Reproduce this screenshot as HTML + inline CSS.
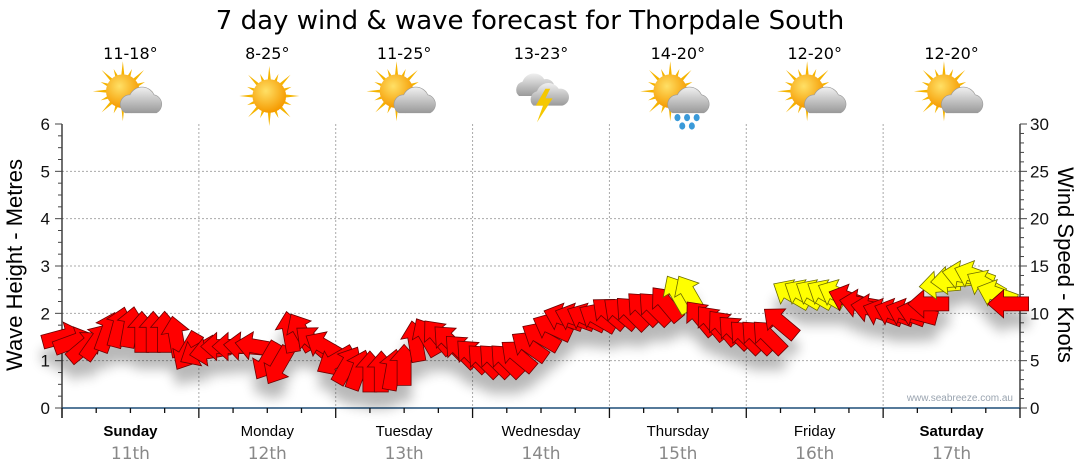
<!DOCTYPE html>
<html><head><meta charset="utf-8"><style>
html,body{margin:0;padding:0;background:#fff;width:1080px;height:475px;overflow:hidden}
svg{display:block;font-family:"Liberation Sans","DejaVu Sans",sans-serif}
</style></head><body>
<svg id="chart" width="1080" height="475" viewBox="0 0 1080 475">
<defs>
<filter id="sh" x="-20%" y="-50%" width="140%" height="250%">
<feGaussianBlur in="SourceAlpha" stdDeviation="6"/>
<feOffset dy="16" result="b"/>
<feComponentTransfer><feFuncA type="linear" slope="0.28"/></feComponentTransfer>
<feMerge><feMergeNode/><feMergeNode in="SourceGraphic"/></feMerge>
</filter>
<radialGradient id="sunG" cx="40%" cy="35%" r="65%"><stop offset="0" stop-color="#ffe066"/><stop offset="1" stop-color="#f59a00"/></radialGradient>
<linearGradient id="cloudG" x1="0" y1="0" x2="0" y2="1"><stop offset="0" stop-color="#f0f0f0"/><stop offset="1" stop-color="#9a9a9a"/></linearGradient>
</defs>
<text x="530" y="29" text-anchor="middle" font-size="26" fill="#000" font-family="'DejaVu Sans',sans-serif">7 day wind &amp; wave forecast for Thorpdale South</text>
<g id="grid"></g>
<g id="axes"></g>
<g id="icons"></g>
<g id="arrows" filter="url(#sh)"></g>
<text x="1013" y="401" text-anchor="end" font-size="10" fill="#9aa4b0">www.seabreeze.com.au</text>
<text transform="translate(22,265) rotate(-90)" text-anchor="middle" font-size="22" fill="#000">Wave Height - Metres</text>
<text transform="translate(1058,265) rotate(90)" text-anchor="middle" font-size="22" fill="#000">Wind Speed - Knots</text>
</svg>
<script>
const days = ["Sunday","Monday","Tuesday","Wednesday","Thursday","Friday","Saturday"];
const dates = ["11th","12th","13th","14th","15th","16th","17th"];
const temps = ["11-18°","8-25°","11-25°","13-23°","14-20°","12-20°","12-20°"];
const weather = ["partly","sunny","partly","storm","shower","partly","partly"];
const waveTicks = [0,1,2,3,4,5,6];
const windTicks = [0,5,10,15,20,25,30];
// 2-hourly wind speed (knots), 12 per day
const windSpeed = [
7.5,7,6.5,7,8,8.5,8.5,8,8,8,7.5,6,
6,6,6.5,6.5,6.5,6.5,5,4.5,8,8,7,6.5,
5,4.5,4,3.8,3.8,4,4.5,7,7.5,7.5,7,6,
5.5,5,5,5,5.5,6.5,7.5,8.5,9.5,9.5,9.5,9.5,
10,10,10,10.5,10.5,11,12,12,9.5,9,8.5,8,
7.5,7.5,7.5,9,12,12,12,12,12,11.5,11,10.5,
10,10,10,10,11,13,13.5,14,14,13,12,11];
// wind-from direction (degrees)
const windDir = [
255,250,230,215,200,195,190,180,180,180,170,30,
60,80,90,90,95,100,30,30,170,150,130,120,
60,210,200,180,180,190,180,170,150,140,135,135,
135,135,135,135,130,125,120,115,110,110,115,120,
130,130,135,135,135,140,150,150,140,140,140,135,
135,135,135,130,120,120,120,120,115,110,100,100,
110,110,110,105,90,85,85,100,110,120,110,90];

const NS="http://www.w3.org/2000/svg";
const X0=62,X1=1020,YT=124,YB=408;
const dayW=(X1-X0)/7;
const yWave=v=>YB-(v/6)*(YB-YT);
const yWind=v=>YB-(v/30)*(YB-YT);
const xHour=h=>X0+h/24*dayW;
function mk(tag,attrs,parent){const e=document.createElementNS(NS,tag);for(const k in attrs)e.setAttribute(k,attrs[k]);parent.appendChild(e);return e;}
const grid=document.getElementById('grid'),axes=document.getElementById('axes'),icons=document.getElementById('icons'),arrows=document.getElementById('arrows');

for(let i=1;i<6;i++){const l=mk('line',{x1:X0,x2:X1,y1:yWave(i),y2:yWave(i),stroke:'#aaa','stroke-dasharray':'2,2'},grid);

}
for(let d=1;d<7;d++){const x=X0+d*dayW;const l=mk('line',{x1:x,x2:x,y1:YT,y2:YB,stroke:'#aaa','stroke-dasharray':'2,2'},grid);

}

mk('line',{x1:X0,x2:X0,y1:YT,y2:YB+10,stroke:'#222','stroke-width':1.3},axes);
mk('line',{x1:X1,x2:X1,y1:YT,y2:YB,stroke:'#222','stroke-width':1.3},axes);
for(let i=0;i<=24;i++){const y=YB-i*(YB-YT)/24;mk('line',{x1:X0-(i%4==0?7:4),x2:X0,y1:y,y2:y,stroke:'#444'},axes);}
for(let i=0;i<=30;i++){const y=yWind(i);mk('line',{x1:X1,x2:X1+(i%5==0?7:4),y1:y,y2:y,stroke:'#444'},axes);}
waveTicks.forEach(v=>{const t=mk('text',{x:X0-12,y:yWave(v)+6,'text-anchor':'end','font-size':17,fill:'#111'},axes);t.textContent=v;

});
windTicks.forEach(v=>{const t=mk('text',{x:X1+10,y:yWind(v)+6,'font-size':17,fill:'#111'},axes);t.textContent=v;

});
mk('line',{x1:X0,x2:X1,y1:YB,y2:YB,stroke:'#1f4e79','stroke-width':1.5},axes);
for(let q=0;q<=28;q++){const x=X0+q*dayW/4;mk('line',{x1:x,x2:x,y1:YB,y2:YB+(q%4==0?10:5),stroke:'#111','stroke-width':1.3},axes);}

function icon(type,cx,cy,g){
  const sunX=type==='sunny'?cx:cx-8, sunY=type==='sunny'?cy:cy-4;
  if(type!=='storm'){
    for(let a=0;a<16;a++){const ang=a*Math.PI/8;const r1=12,r2=(a%2?20:25);
      mk('polygon',{points:`${sunX+Math.cos(ang-0.12)*r1},${sunY+Math.sin(ang-0.12)*r1} ${sunX+Math.cos(ang)*r2},${sunY+Math.sin(ang)*r2} ${sunX+Math.cos(ang+0.12)*r1},${sunY+Math.sin(ang+0.12)*r1}`,fill:'#f5b400'},g);}
    mk('circle',{cx:sunX,cy:sunY,r:14,fill:'url(#sunG)'},g);
  }
  if(type==='partly'||type==='shower'){
    mk('path',{d:`M${cx-6},${cy+14} a8,8 0 0 1 4,-15 a11,11 0 0 1 20,0 a8,8 0 0 1 2,15 z`,fill:'url(#cloudG)',stroke:'#999','stroke-width':0.5},g);
    if(type==='shower'){[[-2,18],[6,18],[14,18],[2,25],[10,25]].forEach(p=>mk('ellipse',{cx:cx+p[0],cy:cy+p[1],rx:2.5,ry:3,fill:'#3a9ad9'},g));}
  }
  if(type==='storm'){
    mk('path',{d:`M${cx-20},${cy} a7,7 0 0 1 3,-12 a10,10 0 0 1 18,-2 a7,7 0 0 1 3,14 z`,fill:'url(#cloudG)'},g);
    mk('path',{d:`M${cx-8},${cy+8} a7,7 0 0 1 3,-12 a10,10 0 0 1 18,-2 a7,7 0 0 1 3,14 z`,fill:'url(#cloudG)'},g);
    mk('polygon',{points:`${cx+2},${cy-6} ${cx-6},${cy+8} ${cx},${cy+8} ${cx-5},${cy+22} ${cx+8},${cy+2} ${cx+2},${cy+2} ${cx+6},${cy-6}`,fill:'#f5c800'},g);
  }
}

days.forEach((d,i)=>{
  const cx=X0+(i+0.5)*dayW;
  const t=mk('text',{x:cx,y:59,'text-anchor':'middle','font-size':16,fill:'#000','font-family':"'DejaVu Sans',sans-serif"},icons);t.textContent=temps[i];
  
  
  const g=mk('g',{transform:`translate(${cx+2},96) scale(1.2) translate(${-(cx+2)},-96)`},icons);
  
  
  icon(weather[i],cx+2,96,g);
  const n=mk('text',{x:cx,y:436,'text-anchor':'middle','font-size':15,fill:'#000','font-weight':(i==0||i==6)?'bold':'normal'},axes);n.textContent=d;
  
  
  const dt=mk('text',{x:cx,y:459,'text-anchor':'middle','font-size':17,fill:'#888','font-family':"'DejaVu Sans',sans-serif"},axes);dt.textContent=dates[i];
  
  
});

const arrowPts="0,-21 14,-5 7,-5 7,20 -7,20 -7,-5 -14,-5";
windSpeed.forEach((s,i)=>{
  const x=xHour(i*2), y=yWind(s);
  const rot=(windDir[i]+180)%360;
  const p=mk('polygon',{points:arrowPts,transform:`translate(${x.toFixed(1)},${y.toFixed(1)}) rotate(${rot})`,fill:s>=11.8?'#ffff00':'#ff0000',stroke:s>=11.8?'#6b6b00':'#6b0000','stroke-width':0.8},arrows);
  
  
});
</script>
</body></html>
